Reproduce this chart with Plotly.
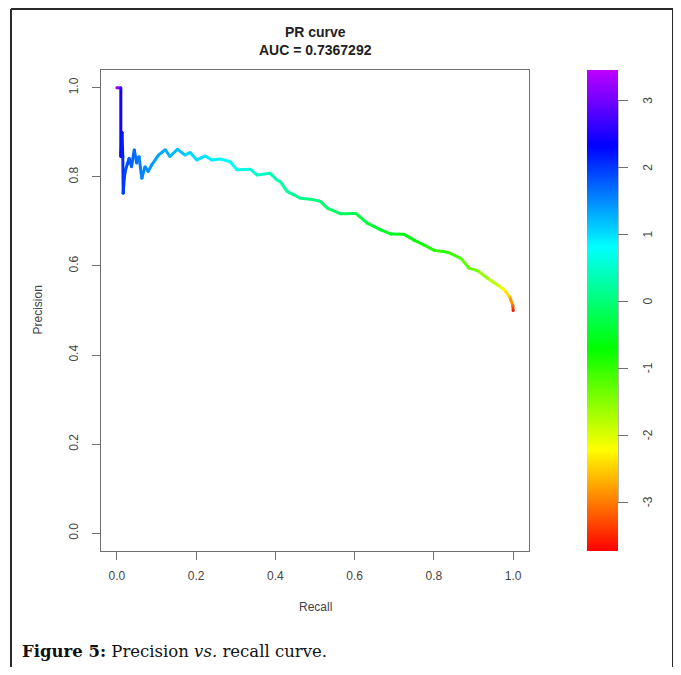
import colorsys
import plotly.graph_objects as go

# ---- data ----
recall = [0.000, 0.010, 0.010, 0.013, 0.015, 0.016, 0.019, 0.022, 0.027, 0.031,
          0.037, 0.044, 0.050, 0.056, 0.063, 0.071, 0.079, 0.088, 0.105, 0.122,
          0.134, 0.153, 0.172, 0.185, 0.202, 0.223, 0.240, 0.261, 0.286, 0.303,
          0.337, 0.354, 0.387, 0.404, 0.413, 0.430, 0.446, 0.463, 0.489, 0.514,
          0.531, 0.565, 0.603, 0.632, 0.666, 0.691, 0.725, 0.750, 0.775, 0.801,
          0.835, 0.868, 0.889, 0.911, 0.936, 0.961, 0.978, 0.991, 0.999, 1.000]
precision = [1.000, 1.000, 0.846, 0.900, 0.846, 0.763, 0.800, 0.816, 0.830, 0.842,
             0.823, 0.861, 0.831, 0.846, 0.797, 0.823, 0.812, 0.827, 0.849, 0.861,
             0.846, 0.862, 0.849, 0.855, 0.838, 0.847, 0.838, 0.840, 0.834, 0.816,
             0.817, 0.804, 0.808, 0.793, 0.789, 0.767, 0.760, 0.752, 0.750, 0.745,
             0.730, 0.717, 0.718, 0.696, 0.681, 0.672, 0.671, 0.658, 0.647, 0.635,
             0.631, 0.617, 0.595, 0.589, 0.572, 0.557, 0.546, 0.531, 0.512, 0.500]
cutoff = [3.30, 2.60, 2.30, 2.20, 2.10, 2.00, 1.95, 1.90, 1.85, 1.80,
          1.75, 1.70, 1.65, 1.60, 1.55, 1.50, 1.45, 1.40, 1.35, 1.30,
          1.25, 1.20, 1.10, 1.05, 1.00, 0.95, 0.90, 0.85, 0.75, 0.70,
          0.60, 0.50, 0.40, 0.35, 0.30, 0.25, 0.20, 0.15, 0.05, 0.00,
          -0.05, -0.15, -0.25, -0.35, -0.45, -0.50, -0.60, -0.70, -0.80, -0.90,
          -1.00, -1.15, -1.30, -1.45, -1.65, -1.90, -2.20, -2.60, -3.10, -3.60]
x_ticks = [0.0, 0.2, 0.4, 0.6, 0.8, 1.0]
y_ticks = [0.0, 0.2, 0.4, 0.6, 0.8, 1.0]
cb_ticks = [-3, -2, -1, 0, 1, 2, 3]
title_lines = ["PR curve", "AUC = 0.7367292"]

# ---- styling ----
CMIN, CMAX = -3.73, 3.46
HUE_END = 285.0
N_STOPS = 20


def hue_color(frac):
    r, g, b = colorsys.hsv_to_rgb(frac * HUE_END / 360.0, 1.0, 1.0)
    return "rgb(%d,%d,%d)" % (round(r * 255), round(g * 255), round(b * 255))


colorscale = [[i / (N_STOPS - 1), hue_color(i / (N_STOPS - 1))] for i in range(N_STOPS)]


def value_color(v):
    f = min(max((v - CMIN) / (CMAX - CMIN), 0.0), 1.0)
    return hue_color(f)


# the page puts the figure 8px in from the top-left corner
W, H = 673, 659
L, R, T = 93, 152, 62
PW, PH = 428, 481
B = H - T - PH
PLOT_LEFT_PAGE, PLOT_BOTTOM_PAGE = 101, 551


def px_x(px):
    return (px - PLOT_LEFT_PAGE) / PW


def px_y(py):
    return (PLOT_BOTTOM_PAGE - py) / PH


AXC = "#707070"
TXT = "#444444"
SANS = "Liberation Sans, Arial, sans-serif"

fig = go.Figure()

for i in range(len(recall) - 1):
    fig.add_trace(go.Scatter(
        x=[recall[i], recall[i + 1]], y=[precision[i], precision[i + 1]],
        mode="lines", line=dict(color=value_color((cutoff[i] + cutoff[i + 1]) / 2), width=3),
        showlegend=False, hoverinfo="skip"))

fig.add_trace(go.Scatter(
    x=recall, y=precision, mode="markers", showlegend=False,
    marker=dict(size=3, color=cutoff, colorscale=colorscale, cmin=CMIN, cmax=CMAX,
                line=dict(width=0),
                colorbar=dict(x=px_x(587), xanchor="left", y=0.5, yanchor="middle",
                              len=1, lenmode="fraction", thickness=31,
                              xpad=0, ypad=0, outlinewidth=0,
                              tickvals=cb_ticks, showticklabels=False,
                              ticks="outside", ticklen=10, tickcolor=AXC, tickwidth=1))))

shapes = []
# axis line of the colour key between first and last tick
shapes.append(dict(type="line", xref="paper", yref="paper",
                   x0=px_x(618), x1=px_x(618),
                   y0=(min(cb_ticks) - CMIN) / (CMAX - CMIN),
                   y1=(max(cb_ticks) - CMIN) / (CMAX - CMIN),
                   line=dict(color=AXC, width=1)))
# outer frame
for (x0, y0, x1, y1) in [(11, 9, 673, 9), (11, 9, 11, 690), (673, 9, 673, 690)]:
    shapes.append(dict(type="line", xref="paper", yref="paper",
                       x0=px_x(x0), y0=px_y(y0), x1=px_x(x1), y1=px_y(y1),
                       line=dict(color="#2a2a2a", width=2)))

annotations = [
    dict(text="<b>" + title_lines[0] + "</b><br><b>" + title_lines[1] + "</b>",
         xref="paper", yref="paper", x=0.5, y=px_y(41), xanchor="center", yanchor="middle",
         showarrow=False, font=dict(family=SANS, size=14, color="#222222")),
    dict(text="Recall", xref="paper", yref="paper", x=0.5, y=px_y(607),
         xanchor="center", yanchor="middle", showarrow=False,
         font=dict(family=SANS, size=12, color=TXT)),
    dict(text="Precision", xref="paper", yref="paper", x=px_x(37), y=0.5, textangle=-90,
         xanchor="center", yanchor="middle", showarrow=False,
         font=dict(family=SANS, size=12, color=TXT)),
    dict(text="<b>Figure 5:</b> Precision <i>vs.</i> recall curve.",
         xref="paper", yref="paper", x=px_x(20), y=px_y(651), xanchor="left", yanchor="middle",
         showarrow=False, font=dict(family="DejaVu Serif, serif", size=16.5, color="#111111")),
]
for v in cb_ticks:
    annotations.append(dict(text=str(v), xref="paper", yref="paper", x=px_x(648),
                            y=(v - CMIN) / (CMAX - CMIN), textangle=-90,
                            xanchor="center", yanchor="middle", showarrow=False,
                            font=dict(family=SANS, size=12, color=TXT)))

fig.update_layout(
    width=W, height=H, margin=dict(l=L, r=R, t=T, b=B, pad=0),
    paper_bgcolor="white", plot_bgcolor="white",
    shapes=shapes, annotations=annotations, showlegend=False,
    xaxis=dict(range=[-0.04, 1.04], tickvals=x_ticks, ticktext=["%.1f" % v for v in x_ticks],
               showgrid=False, zeroline=False, showline=True, mirror=True,
               linecolor=AXC, linewidth=1, ticks="outside", ticklen=8, tickcolor=AXC,
               tickfont=dict(family=SANS, size=12, color=TXT), ticklabelstandoff=6),
    yaxis=dict(range=[-0.04, 1.04], tickvals=y_ticks, ticktext=["%.1f" % v for v in y_ticks],
               showgrid=False, zeroline=False, showline=True, mirror=True,
               linecolor=AXC, linewidth=1, ticks="outside", ticklen=8, tickcolor=AXC,
               tickangle=-90, tickfont=dict(family=SANS, size=12, color=TXT),
               ticklabelstandoff=9),
)

fig.write_html("out.html")
